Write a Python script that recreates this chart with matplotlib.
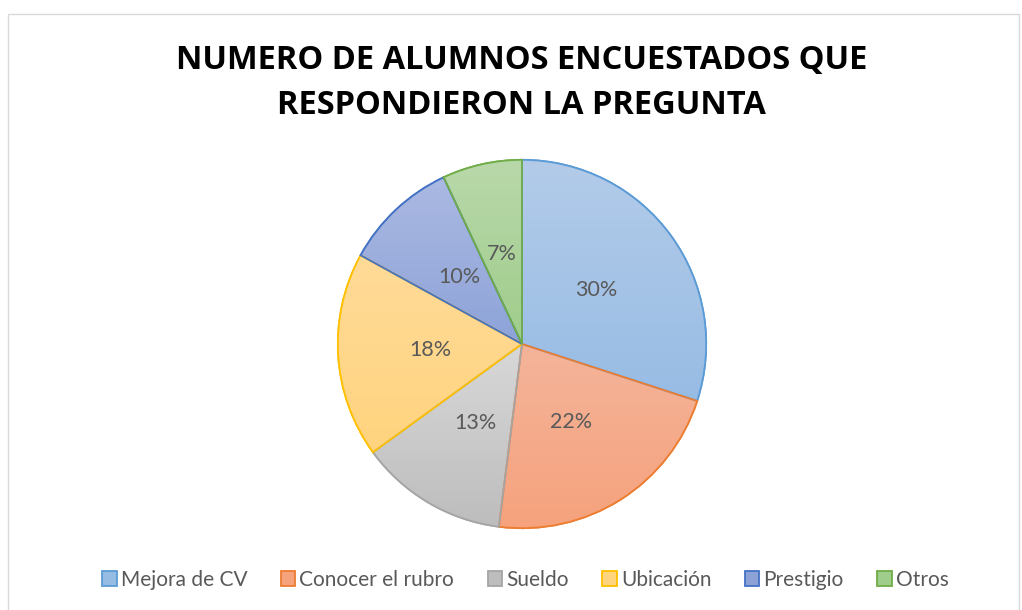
import numpy as np
import matplotlib.pyplot as plt
from matplotlib.colors import LinearSegmentedColormap
from matplotlib.patches import Rectangle, Wedge

categories = ["Mejora de CV", "Conocer el rubro", "Sueldo", "Ubicación", "Prestigio", "Otros"]
values = [30, 22, 13, 18, 10, 7]

edge_colors = ["#5B9BD5", "#ED7D31", "#A5A5A5", "#FFC000", "#4472C4", "#70AD47"]
top_colors = ["#B3CBE9", "#F4B49A", "#D8D8D8", "#FFDB98", "#ABB9E2", "#B9D8AA"]
bottom_colors = ["#97BCE4", "#F6A27D", "#BDBDBD", "#FFD47F", "#8DA3D8", "#9FCD8B"]

fig = plt.figure(figsize=(10.22, 6.10), dpi=100)
fig.patches.append(Rectangle((8 / 1022, -0.01), 1011 / 1022, 1 - 14 / 610 + 0.01,
                             transform=fig.transFigure, fill=False,
                             edgecolor="#D9D9D9", linewidth=1))

r_px = 186
cx, cy = 522, 344
ax = fig.add_axes([(cx - r_px) / 1022, (610 - cy - r_px) / 610, 2 * r_px / 1022, 2 * r_px / 610])

wedges, texts, autotexts = ax.pie(
    values, startangle=90, counterclock=False,
    colors=bottom_colors,
    autopct="%1.0f%%", pctdistance=0.5,
    wedgeprops=dict(linewidth=0),
    textprops=dict(color="#595959", fontsize=15.5, family="Lato"),
)

# gradient fill per wedge, clipped to wedge shape
for w, top, bot, ec in zip(wedges, top_colors, bottom_colors, edge_colors):
    th = np.linspace(np.radians(w.theta1), np.radians(w.theta2), 100)
    ys = np.concatenate([[0], np.sin(th)])
    y0, y1 = ys.min(), ys.max()
    cmap = LinearSegmentedColormap.from_list("g", [bot, top])
    grad = np.linspace(0, 1, 256).reshape(-1, 1)
    im = ax.imshow(grad, extent=(-1, 1, y0, y1), origin="lower", cmap=cmap,
                   aspect="auto", zorder=1)
    im.set_clip_path(w)
    w.set_zorder(0)
    ax.add_patch(Wedge(w.center, w.r, w.theta1, w.theta2, facecolor="none",
                       edgecolor=ec, linewidth=1.3, zorder=2))
    w.set_edgecolor(ec)
    w.set_linewidth(1.3)

for t in autotexts:
    t.set_zorder(3)

ax.set_xlim(-1.01, 1.01)
ax.set_ylim(-1.01, 1.01)
ax.set_aspect("equal")
ax.axis("off")

fig.text(0.5105, 1 - 83 / 610, "NUMERO DE ALUMNOS ENCUESTADOS QUE\nRESPONDIERON LA PREGUNTA",
         ha="center", va="center", fontsize=23.5, fontweight="bold", family="Open Sans",
         linespacing=1.45)

leg = fig.legend(wedges, categories, loc="center", bbox_to_anchor=(0.514, 1 - 580 / 610),
                 ncol=6, frameon=False, handlelength=0.7, handleheight=0.7,
                 handletextpad=0.2, columnspacing=1.6, labelcolor="#595959",
                 prop=dict(family="Lato", size=15))

fig.savefig("out.png", dpi=100)
